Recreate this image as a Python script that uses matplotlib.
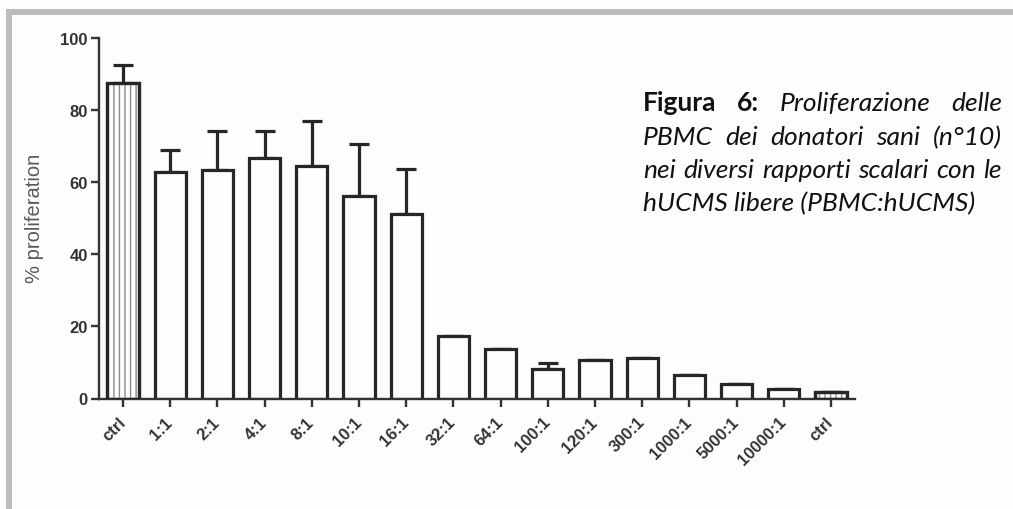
import matplotlib
matplotlib.use("Agg")
import matplotlib.pyplot as plt
from matplotlib.patches import Rectangle
import numpy as np

# proliferation per rapporto PBMC:hUCMS
ratios = ["ctrl", "1:1", "2:1", "4:1", "8:1", "10:1", "16:1", "32:1", "64:1",
          "100:1", "120:1", "300:1", "1000:1", "5000:1", "10000:1", "ctrl"]
proliferation = [87.6, 62.8, 63.3, 66.7, 64.5, 56.3, 51.1, 17.4, 13.6,
                 8.2, 10.7, 11.2, 6.5, 4.0, 2.6, 1.7]
sem_up = [4.8, 6.2, 11.0, 7.6, 12.4, 14.3, 12.7, 0, 0,
          1.6, 0, 0, 0, 0, 0, 0]
ctrl_idx = [0, 15]
yticks = [0, 20, 40, 60, 80, 100]

caption_lines = [
    [("Figura", "b"), ("6:", "b"), ("Proliferazione", "i"), ("delle", "i")],
    [("PBMC", "i"), ("dei", "i"), ("donatori", "i"), ("sani", "i"), ("(n°10)", "i")],
    [("nei", "i"), ("diversi", "i"), ("rapporti", "i"), ("scalari", "i"),
     ("con", "i"), ("le", "i")],
    [("hUCMS libere (PBMC:hUCMS)", "i")],
]

W, H = 1013, 510
plt.rcParams["font.family"] = ["Liberation Sans", "DejaVu Sans"]
plt.rcParams["hatch.linewidth"] = 1.0

fig = plt.figure(figsize=(W / 100, H / 100), dpi=100, facecolor="#fdfdfd")

# cornice grigia in alto e a sinistra
border = "#bdbdbf"
fig.patches.append(Rectangle((6 / W, 1 - 16 / H), 1, 6 / H, transform=fig.transFigure,
                             facecolor=border, edgecolor="none"))
fig.patches.append(Rectangle((6 / W, 0), 6 / W, 1 - 10 / H, transform=fig.transFigure,
                             facecolor=border, edgecolor="none"))

ax = fig.add_axes([99 / W, 110.5 / H, (855 - 99) / W, 360.5 / H])
ax.set_facecolor("none")

x = np.arange(len(ratios))
dark = "#262626"
lw = 2.3

ax.errorbar(x, proliferation, yerr=[np.zeros(len(x)), sem_up], fmt="none",
            ecolor=dark, elinewidth=lw, capsize=7, capthick=lw, zorder=1)
ax.bar(x, proliferation, width=0.66, facecolor="#fdfdfd", edgecolor=dark,
       linewidth=lw, zorder=2)
# tratteggio verticale per i controlli
ctrl_vals = [proliferation[i] for i in ctrl_idx]
ax.bar(ctrl_idx, ctrl_vals, width=0.66, facecolor="none", edgecolor="#8a8a8a",
       hatch="|||", linewidth=0, zorder=3)
ax.bar(ctrl_idx, ctrl_vals, width=0.66, facecolor="none", edgecolor=dark,
       linewidth=lw, zorder=4)

ax.set_xlim(-0.51, len(ratios) - 0.49)
ax.set_ylim(0, 100)
ax.set_yticks(yticks)
ax.set_xticks(x)
ax.set_xticklabels(ratios, rotation=45, ha="right", va="center",
                   rotation_mode="anchor")
for sp in ["top", "right"]:
    ax.spines[sp].set_visible(False)
for sp in ["left", "bottom"]:
    ax.spines[sp].set_linewidth(1.7)
    ax.spines[sp].set_color("#333333")
ax.tick_params(axis="both", width=1.7, length=6, color="#333333",
               labelcolor="#333333", labelsize=12)
ax.tick_params(axis="y", pad=2)
ax.tick_params(axis="x", pad=9)
for lab in ax.get_xticklabels() + ax.get_yticklabels():
    lab.set_fontweight("bold")

fig.text(35 / W, 1 - 218 / H, "% proliferation", rotation=90, ha="center",
         va="center", fontsize=14.5, color="#5a5a5a")

# didascalia giustificata a destra del grafico
renderer = fig.canvas.get_renderer()
x0, x1 = 643, 1002
baselines = [111, 145, 178, 211]
styles = {"b": dict(fontweight="bold", fontstyle="normal"),
          "i": dict(fontweight="normal", fontstyle="italic")}
for n, (line, base) in enumerate(zip(caption_lines, baselines)):
    texts = []
    for word, st in line:
        t = fig.text(x0 / W, 1 - base / H, word, fontsize=19, family="Lato",
                     va="baseline", ha="left", color="#111111", **styles[st])
        texts.append(t)
    if len(texts) == 1:
        continue
    widths = [t.get_window_extent(renderer).width for t in texts]
    gap = (x1 - x0 - sum(widths)) / (len(texts) - 1)
    pos = x0
    for t, w in zip(texts, widths):
        t.set_x(pos / W)
        pos += w + gap

fig.savefig("out.png", dpi=100, facecolor=fig.get_facecolor())
